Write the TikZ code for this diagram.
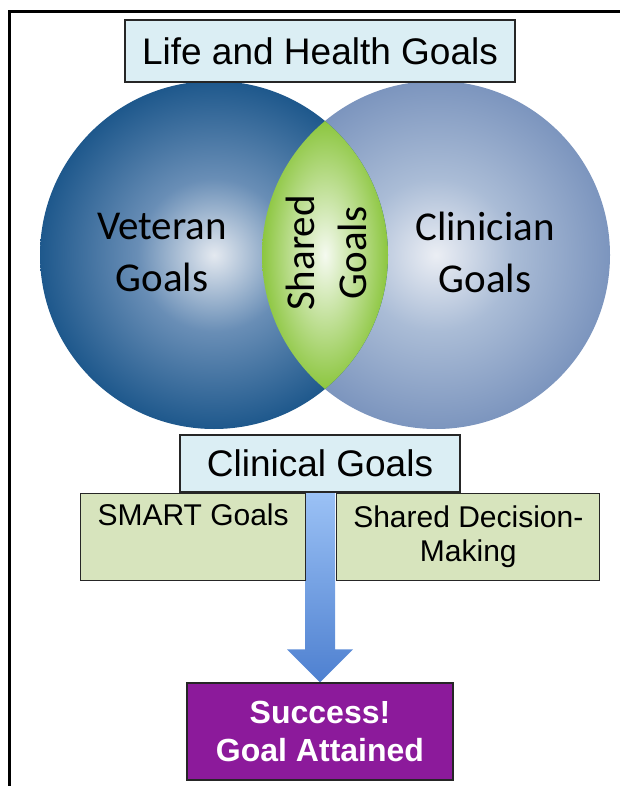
\documentclass[tikz,border=0pt]{standalone}
\usepackage{fontspec}
\setmainfont{Liberation Sans}
\newfontfamily\calibrifont{Carlito}
\usepackage{xcolor}
\usetikzlibrary{positioning, calc, backgrounds}

\definecolor{vetout}{RGB}{30,88,140}
\definecolor{vetmid}{RGB}{105,142,182}
\definecolor{vetin}{RGB}{228,233,240}
\definecolor{clinout}{RGB}{124,149,190}
\definecolor{clinmid}{RGB}{170,188,214}
\definecolor{clinin}{RGB}{235,238,244}
\definecolor{lensout}{RGB}{140,198,63}
\definecolor{lensin}{RGB}{245,250,240}
\definecolor{boxblue}{RGB}{219,238,244}
\definecolor{boxgreen}{RGB}{215,228,189}
\definecolor{successpurple}{RGB}{140,26,155}
\definecolor{arrowtop}{RGB}{165,202,250}
\definecolor{arrowbottom}{RGB}{78,128,208}

\pgfdeclareradialshading{vetshade}{\pgfpoint{0bp}{0bp}}{%
  color(0bp)=(vetin); color(11bp)=(vetmid); color(25bp)=(vetout); color(50bp)=(vetout)}
\pgfdeclareradialshading{clinshade}{\pgfpoint{0bp}{0bp}}{%
  color(0bp)=(clinin); color(11bp)=(clinmid); color(25bp)=(clinout); color(50bp)=(clinout)}
\pgfdeclareradialshading{lensshade}{\pgfpoint{0bp}{0bp}}{%
  color(0bp)=(lensin); color(25bp)=(lensout); color(50bp)=(lensout)}

\begin{document}
\begin{tikzpicture}[x=1pt, y=-1pt,
    box/.style={rectangle, draw=black!85, line width=1.2pt, align=center, inner sep=0pt, fill=#1},
    box/.default=boxblue,
    title/.style={box=boxblue, font=\fontsize{37}{44}\selectfont},
    sub/.style={box=boxgreen, minimum height=87pt, font=\fontsize{30}{34}\selectfont},
    venn/.style={circle, draw=none, minimum size=348pt, inner sep=0pt},
    venntext/.style={align=center, inner sep=0pt, font=\calibrifont\fontsize{41}{52}\selectfont},
    done/.style={box=successpurple, text=white, minimum width=266pt, minimum height=97pt, font=\bfseries\fontsize{32}{38}\selectfont},
    outerframe/.style={line width=3pt, black},
    shaft/.style={top color=arrowtop, bottom color=arrowbottom, draw=none},
]
\useasboundingbox (0,0) rectangle (619,786);

% outer frame (runs off the page on the right and bottom)
\draw[outerframe] (9,800) -- (9,12) -- (640,12);

% two goal circles
\node[venn, shading=clinshade] (clinician) at (436,255) {};
\node[venn, shading=vetshade] (veteran) at (214,255) {};

% overlap
\begin{scope}
  \clip (veteran.center) circle (174);
  \clip (clinician.center) circle (174);
  \shade[shading=lensshade] (262,121) rectangle (388,389);
\end{scope}

\node[venntext] (vettext) at (162,252) {Veteran\\Goals};
\node[venntext] (clintext) at (485,252) {Clinician\\Goals};
\node[venntext, rotate=90] (sharedtext) at (326,253) {Shared\\Goals};

% boxes
\node[title, minimum width=390pt, minimum height=62pt] (life) at (320,51) {Life and Health Goals};
\node[title, minimum width=280pt, minimum height=57pt] (clinical) at (320,463.5) {Clinical Goals};
\node[sub, minimum width=225pt, anchor=north west] (smart) at (80,493) {SMART Goals\\\strut};
\node[sub, minimum width=263pt, right=30pt of smart] (sdm) {Shared Decision-\\Making};
\node[done] (success) at (320,731.5) {Success!\\Goal Attained};

% big arrow, behind the boxes
\coordinate (shafttop) at ($(clinical.south)+(0,-25)$);
\begin{scope}[on background layer]
\shade[shaft] ($(shafttop)+(-15,0)$) -- ($(success.north)+(-15,-33)$)
    -- ($(success.north)+(-33,-33)$) -- (success.north)
    -- ($(success.north)+(33,-33)$) -- ($(success.north)+(15,-33)$)
    -- ($(shafttop)+(15,0)$) -- cycle;
\end{scope}

\end{tikzpicture}
\end{document}
